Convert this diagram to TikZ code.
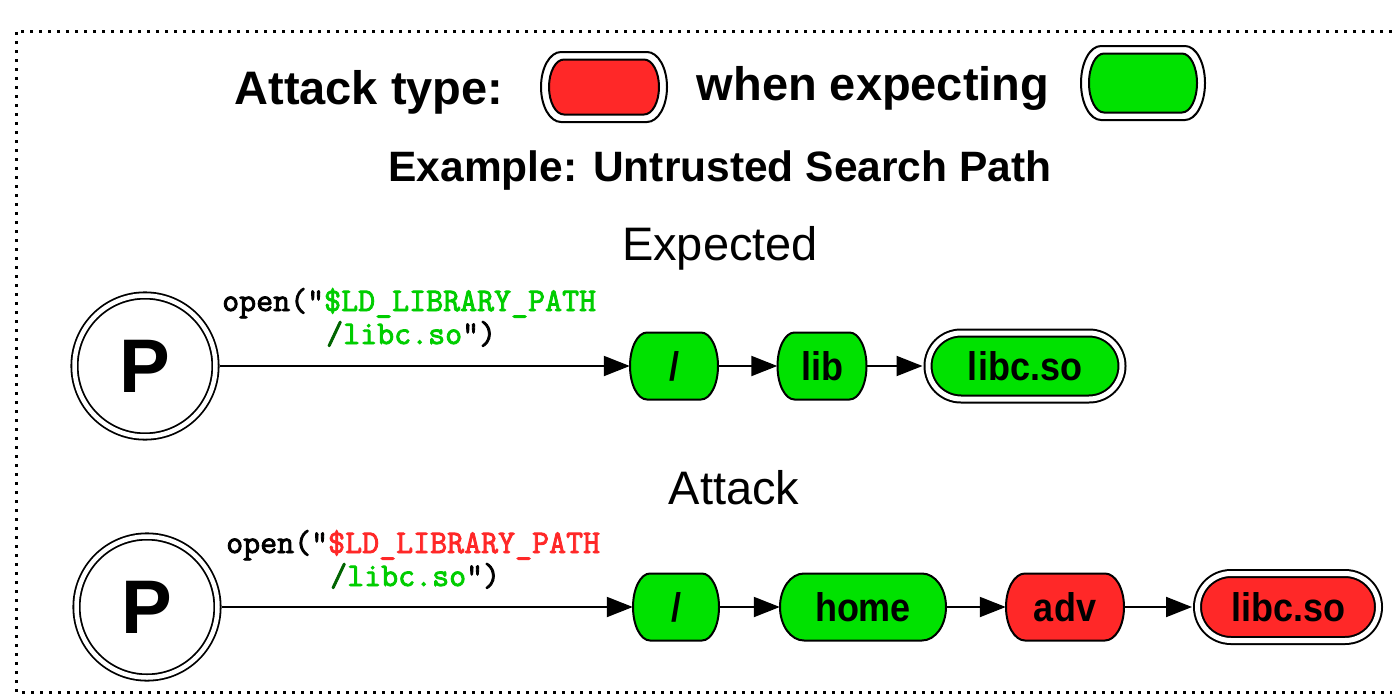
\documentclass[tikz,border=0pt]{standalone}
\usepackage{fontspec}
\setmainfont{Liberation Sans}
\newfontfamily\labelfont[FakeStretch=0.9]{Liberation Sans}
\newfontfamily\codefont{Latin Modern Mono}[FakeBold=2.5]
\usetikzlibrary{shapes.misc,arrows.meta}
\definecolor{nodered}{RGB}{255,40,40}
\definecolor{nodegreen}{RGB}{0,226,0}
\definecolor{codegreen}{RGB}{0,205,0}
\definecolor{codedark}{RGB}{0,100,0}
\definecolor{codered}{RGB}{255,40,40}
% #1 options, #2 centre, #3 half width, #4 half height, #5 corner x-radius
\newcommand\drawbarrel[5]{%
  \draw[#1, shift={#2}] (-#3+#5,-#4) -- (#3-#5,-#4)
    arc[start angle=-90, end angle=90, x radius=#5, y radius=#4]
    -- (-#3+#5,#4)
    arc[start angle=90, end angle=270, x radius=#5, y radius=#4] -- cycle;}
\begin{document}
\begin{tikzpicture}[x=1pt,y=-1pt,
  barrelline/.style={line width=2pt, draw=black},
  barrel/.style={rectangle, inner sep=0pt, minimum height=67pt,
    font=\labelfont\bfseries\fontsize{40}{48}\selectfont},
  stadium/.style={draw, line width=2pt, double, double distance=5pt, rounded rectangle,
    inner sep=0pt, font=\labelfont\bfseries\fontsize{40}{48}\selectfont},
  proc/.style={draw, circle, line width=1.8pt, double, double distance=4.5pt,
    minimum size=141pt, inner sep=0pt, font=\bfseries\fontsize{76}{80}\selectfont},
  conn/.style={line width=2pt, -{Triangle[length=26pt,width=20pt]}},
  code/.style={inner sep=0pt, anchor=base west, font=\codefont\fontsize{33}{36}\selectfont},
  title/.style={inner sep=0pt, anchor=base, font=\bfseries\fontsize{47}{56}\selectfont},
  heading/.style={inner sep=0pt, anchor=base, font=\fontsize{47}{56}\selectfont},
  border/.style={line width=3pt, dash pattern=on 3pt off 6pt}
]
\useasboundingbox (0,0) rectangle (1392,696);
\draw[border] (1392,31) -- (16,31) -- (16,692) -- (1392,692);

% legend
\node[title] (lt1) at (369,104) {Attack type:};
\drawbarrel{barrelline, fill=white}{(604,87)}{63}{35}{20}
\drawbarrel{barrelline, fill=nodered}{(604,87)}{55}{27.5}{15}
\node[barrel, minimum width=128pt, minimum height=72pt] (lred) at (604,87) {};
\node[title] (lt2) at (873,100) {when expecting};
\drawbarrel{barrelline, fill=white}{(1143,83)}{62}{37}{20}
\drawbarrel{barrelline, fill=nodegreen}{(1143,83)}{54}{29.5}{15}
\node[barrel, minimum width=126pt, minimum height=76pt] (lgreen) at (1143,83) {};

\node[title, font=\bfseries\fontsize{42.5}{50}\selectfont] (ex) at (720,181) {Example: Untrusted Search Path};

% expected
\node[heading] (hexp) at (720,260) {Expected};
\node[proc] (p1) at (145,366) {P};
\drawbarrel{barrelline, fill=nodegreen}{(674,366)}{44}{33.5}{17}
\node[barrel, minimum width=88pt] (n1) at (674,366) {/};
\drawbarrel{barrelline, fill=nodegreen}{(822,366)}{44.5}{33.5}{17}
\node[barrel, minimum width=89pt] (n2) at (822,366) {lib};
\node[stadium, fill=nodegreen, minimum width=194pt, minimum height=66pt] (n3) at (1025,366) {libc.so};
\node[code] (c1a) at (222,311) {open("\textcolor{codegreen}{\$LD\_LIBRARY\_PATH}};
\node[code] (c1b) at (326,344) {\textcolor{codedark}{/}\textcolor{codegreen}{libc.so}")};
\draw[conn, shorten <=4pt] (p1) -- (n1);
\draw[conn] (n1) -- (n2);
\draw[conn, shorten >=4.5pt] (n2) -- (n3);

% attack
\node[heading] (hatt) at (734,504) {Attack};
\node[proc] (p2) at (147,607) {P};
\drawbarrel{barrelline, fill=nodegreen}{(676,607)}{43}{33.5}{17}
\node[barrel, minimum width=86pt] (a1) at (676,607) {/};
\drawbarrel{barrelline, fill=nodegreen}{(863,607)}{83}{33.5}{24}
\node[barrel, minimum width=166pt] (a2) at (863,607) {home};
\drawbarrel{barrelline, fill=nodered}{(1065,607)}{59}{33.5}{19}
\node[barrel, minimum width=118pt] (a3) at (1065,607) {adv};
\node[stadium, fill=nodered, minimum width=181pt, minimum height=67pt] (a4) at (1288,607) {libc.so};
\node[code] (c2a) at (226,553) {open("\textcolor{codered}{\$LD\_LIBRARY\_PATH}};
\node[code] (c2b) at (330,586) {\textcolor{codedark}{/}\textcolor{codegreen}{libc.so}")};
\draw[conn, shorten <=4pt] (p2) -- (a1);
\draw[conn] (a1) -- (a2);
\draw[conn] (a2) -- (a3);
\draw[conn, shorten >=4.5pt] (a3) -- (a4);
\end{tikzpicture}
\end{document}
